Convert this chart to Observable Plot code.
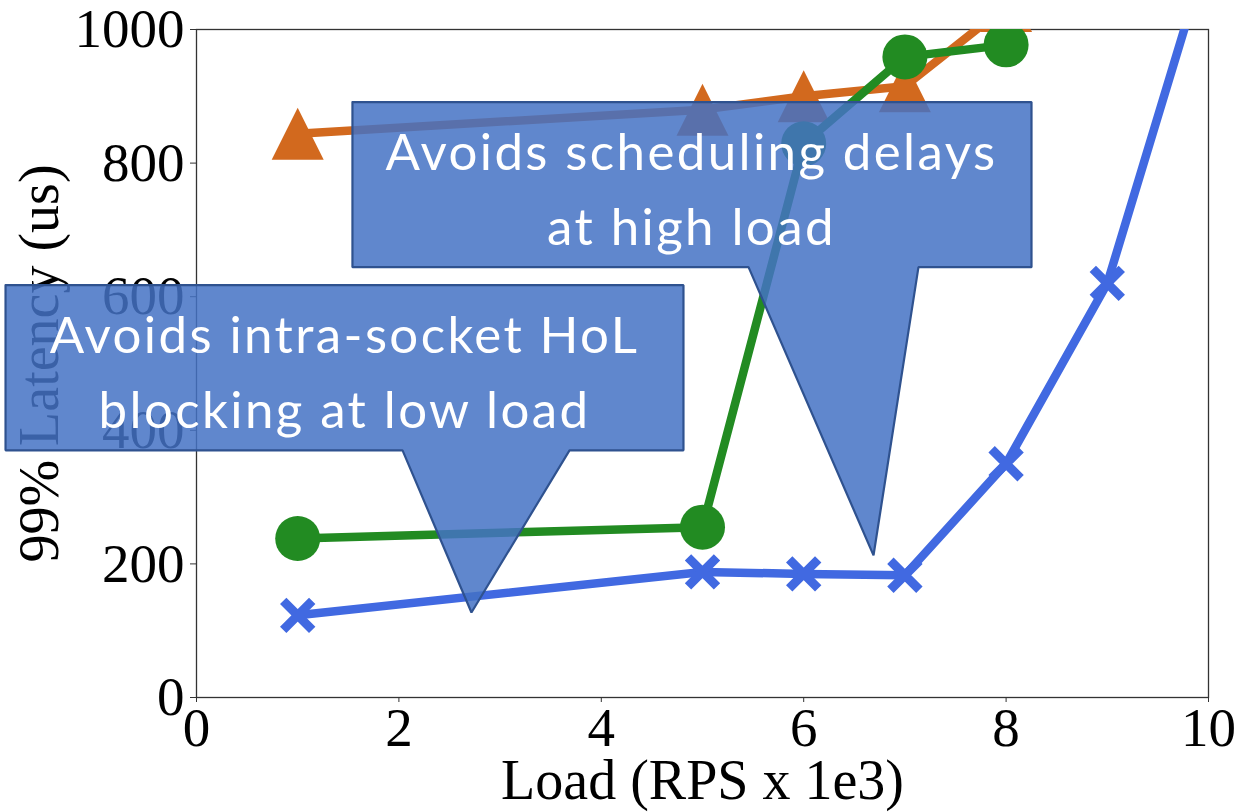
<!DOCTYPE html>
<html>
<head>
<meta charset="utf-8">
<script src="https://cdn.jsdelivr.net/npm/d3@7"></script>
<script src="https://cdn.jsdelivr.net/npm/@observablehq/plot@0.6"></script>
<style>
  html, body { margin: 0; padding: 0; background: white; }
</style>
</head>
<body>
<div id="chart"></div>
<script>
// ---- data ----
const xTicks = [0, 2, 4, 6, 8, 10];
const yTicks = [0, 200, 400, 600, 800, 1000];

const blueLoad = [1, 5, 6, 7, 8, 9, 10];
const blueLatency = [123, 188, 185, 183, 350, 620, 1120];

const greenLoad = [1, 5, 6, 7, 8];
const greenLatency = [238, 255, 829, 959, 977];

const orangeLoad = [1, 5, 6, 7, 8];
const orangeLatency = [844, 880, 900, 915, 1035];

const xLabel = "Load (RPS x 1e3)";
const yLabel = "99% Latency (us)";

// callout shapes in data coordinates (load, latency)
const callout1X = [-1.887, 4.812, 4.812, 3.686, 2.717, 2.036, -1.887, -1.887];
const callout1Y = [617.2, 617.2, 370.0, 370.0, 127.3, 370.0, 370.0, 617.2];
const callout1Text = "Avoids intra-socket HoL\nblocking at low load";
const callout1Anchor = [1.462, 495.0];

const callout2X = [1.541, 8.251, 8.251, 7.134, 6.690, 5.455, 1.541, 1.541];
const callout2Y = [891.4, 891.4, 644.2, 644.2, 212.7, 644.2, 644.2, 891.4];
const callout2Text = "Avoids scheduling delays\nat high load";
const callout2Anchor = [4.891, 769.0];

// ---- tables built from arrays ----
const zip = (xs, ys) => xs.map((x, i) => ({x, y: ys[i]}));
const blue = zip(blueLoad, blueLatency);
const green = zip(greenLoad, greenLatency);
const orange = zip(orangeLoad, orangeLatency);
const c1 = zip(callout1X, callout1Y);
const c2 = zip(callout2X, callout2Y);

// custom marker symbols (size = r*r*PI)
const triSym = {draw(ctx, size) {
  const r = Math.sqrt(size / Math.PI);
  ctx.moveTo(0, -r); ctx.lineTo(r, r); ctx.lineTo(-r, r); ctx.closePath();
}};
const xSym = {draw(ctx, size) {
  const r = Math.sqrt(size / Math.PI);
  ctx.moveTo(-r, -r); ctx.lineTo(r, r); ctx.moveTo(-r, r); ctx.lineTo(r, -r);
}};

const BLUE = "#4169E1", GREEN = "#228B22", ORANGE = "#D2691E";
const serif = "'Liberation Serif', 'Times New Roman', serif";
const sans = "Lato, 'Open Sans', sans-serif";

const chart = Plot.plot({
  width: 1237,
  height: 812,
  marginLeft: 196,
  marginRight: 29,
  marginTop: 29,
  marginBottom: 115,
  style: {fontFamily: serif, fontSize: "55px", background: "white", color: "black", overflow: "visible"},
  x: {domain: [0, 10]},
  y: {domain: [0, 1000]},
  marks: [
    Plot.frame({stroke: "#333", strokeWidth: 1.3}),
    Plot.axisX({ticks: xTicks, tickSize: 5, tickPadding: 4, fontSize: 55, label: null, stroke: "#333", tickFormat: d => String(d)}),
    Plot.axisY({ticks: yTicks, tickSize: 6, tickPadding: 6, fontSize: 55, label: null, stroke: "#333", tickFormat: d => String(d)}),
    Plot.text([xLabel], {frameAnchor: "bottom", dy: 84, text: d => d, fontSize: 56, lineAnchor: "middle", textAnchor: "middle"}),
    Plot.text([yLabel], {frameAnchor: "left", dx: -156, rotate: -90, text: d => d, fontSize: 56, lineAnchor: "middle", textAnchor: "middle"}),

    Plot.line(orange, {x: "x", y: "y", stroke: ORANGE, strokeWidth: 8.5, clip: "frame"}),
    Plot.dot(orange, {x: "x", y: "y", symbol: triSym, r: 26, fill: ORANGE, clip: "frame"}),
    Plot.line(green, {x: "x", y: "y", stroke: GREEN, strokeWidth: 8.5, clip: "frame"}),
    Plot.dot(green, {x: "x", y: "y", symbol: "circle", r: 22.5, fill: GREEN, clip: "frame"}),
    Plot.line(blue, {x: "x", y: "y", stroke: BLUE, strokeWidth: 8.5, clip: "frame"}),
    Plot.dot(blue, {x: "x", y: "y", symbol: xSym, r: 14.5, fill: "none", stroke: BLUE, strokeWidth: 9, strokeLinecap: "butt", clip: "frame"}),

    Plot.line(c1, {x: "x", y: "y", fill: "#4472C4", fillOpacity: 0.85, stroke: "#2F528F", strokeWidth: 2.2, strokeLinejoin: "miter"}),
    Plot.text([callout1Text], {x: () => callout1Anchor[0], y: () => callout1Anchor[1], text: d => d, fill: "white", fontFamily: sans, fontSize: 51, lineHeight: 1.47, lineAnchor: "middle"}),
    Plot.line(c2, {x: "x", y: "y", fill: "#4472C4", fillOpacity: 0.85, stroke: "#2F528F", strokeWidth: 2.2, strokeLinejoin: "miter"}),
    Plot.text([callout2Text], {x: () => callout2Anchor[0], y: () => callout2Anchor[1], text: d => d, fill: "white", fontFamily: sans, fontSize: 51, lineHeight: 1.47, lineAnchor: "middle"})
  ]
});
d3.select(chart).selectAll('g[aria-label="text"]')
  .filter(function() { return this.getAttribute("fill") === "white"; })
  .style("letter-spacing", "2.4px");
document.getElementById("chart").appendChild(chart);
</script>
</body>
</html>
